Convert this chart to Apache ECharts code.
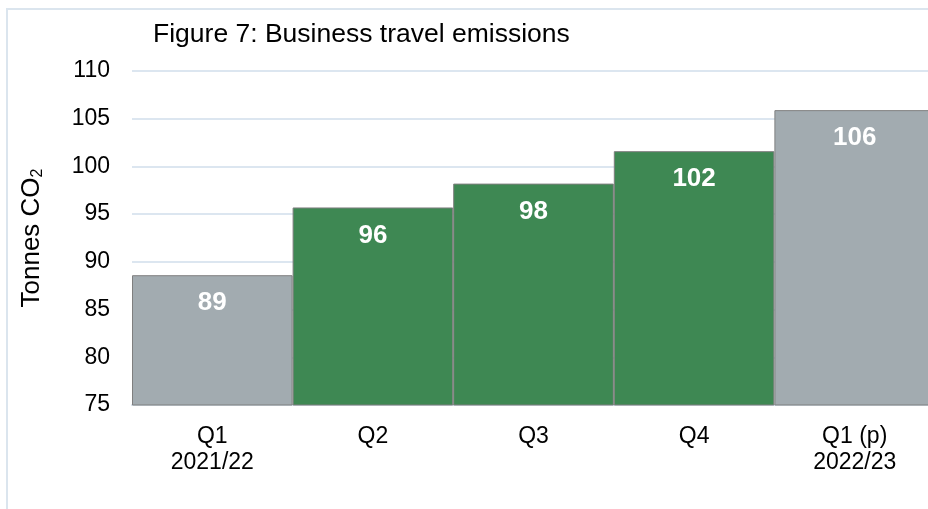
<!DOCTYPE html>
<html><head><meta charset="utf-8">
<script src="https://cdn.jsdelivr.net/npm/echarts@6/dist/echarts.min.js"></script>
<style>html,body{margin:0;padding:0;background:#fff}#c{width:928px;height:509px}</style>
</head><body><div id="c"></div>
<script>
const categories = ['Q1\n2021/22', 'Q2', 'Q3', 'Q4', 'Q1 (p)\n2022/23'];
const values = [88.6, 95.7, 98.2, 101.6, 105.9];
const labels = ['89', '96', '98', '102', '106'];
const barColors = ['#a2abb0', '#3e8853', '#3e8853', '#3e8853', '#a2abb0'];
const yTicks = [75, 80, 85, 90, 95, 100, 105, 110];

const chart = echarts.init(document.getElementById('c'));
const FONT = 'Liberation Sans, Arial, sans-serif';
chart.setOption({
  animation: false,
  textStyle: { fontFamily: FONT },
  title: {
    text: 'Figure 7: Business travel emissions',
    left: 148, top: 16,
    textStyle: { fontSize: 26.5, fontWeight: 'normal', color: '#000', fontFamily: FONT }
  },
  graphic: [{
    type: 'rect', shape: { x: 7, y: 9, width: 960, height: 540 },
    style: { fill: 'none', stroke: '#dbe5ee', lineWidth: 2 }, z: -1
  }],
  grid: { left: 132, width: 803, top: 71, bottom: 104, outerBoundsMode: 'none', containLabel: false },
  xAxis: {
    type: 'category', data: categories,
    axisLine: { lineStyle: { color: '#d6e2ec', width: 2 } },
    axisTick: { show: false },
    axisLabel: { color: '#000', fontSize: 23, lineHeight: 26, margin: 19, fontFamily: FONT }
  },
  yAxis: {
    type: 'value', min: yTicks[0], max: yTicks[yTicks.length - 1], interval: 5,
    name: '{a|Tonnes CO}{b|2}', nameLocation: 'middle', nameGap: 86, nameRotate: 90,
    nameTextStyle: {
      rich: {
        a: { fontSize: 26, color: '#000', fontFamily: FONT },
        b: { fontSize: 16, color: '#000', fontFamily: FONT, padding: [12, 0, 0, 0] }
      }
    },
    axisLine: { show: false }, axisTick: { show: false },
    axisLabel: { color: '#000', fontSize: 23, margin: 22, fontFamily: FONT },
    splitLine: { lineStyle: { color: '#dce6f0', width: 2 } }
  },
  series: [{
    type: 'bar', barCategoryGap: '0%',
    data: values.map((v, i) => ({ value: v, itemStyle: { color: barColors[i] } })),
    itemStyle: { borderColor: '#7f7f7f', borderWidth: 1 },
    label: {
      show: true, position: 'insideTop', distance: 15,
      formatter: p => labels[p.dataIndex],
      color: '#fff', fontSize: 26, fontWeight: 'bold', fontFamily: FONT
    }
  }]
});
</script></body></html>
